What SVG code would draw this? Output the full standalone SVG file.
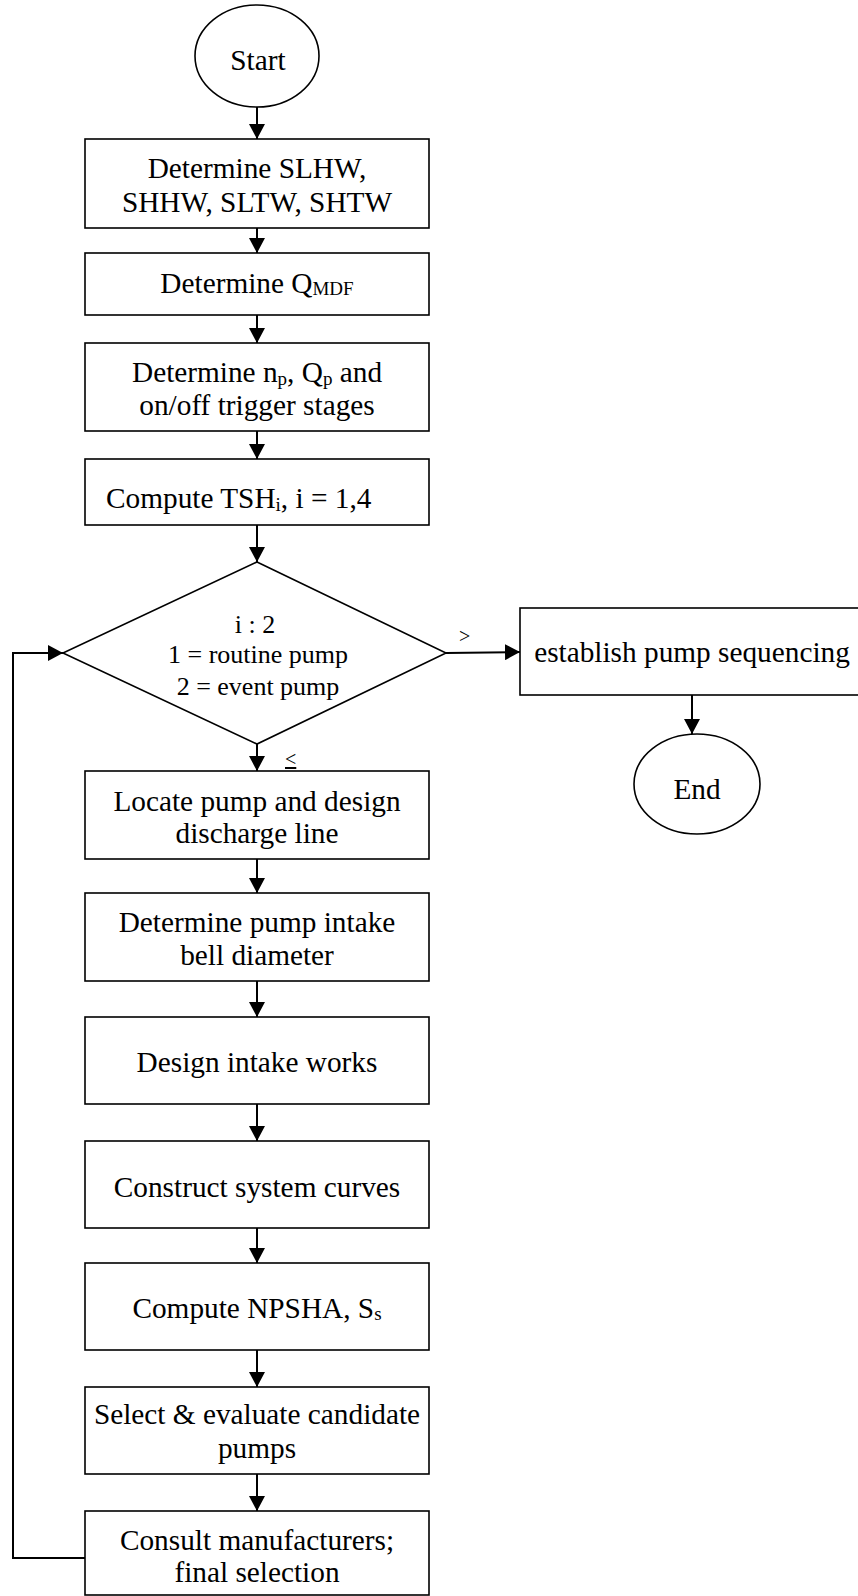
<svg xmlns="http://www.w3.org/2000/svg" width="858" height="1596" viewBox="0 0 858 1596">
<style>
  .box { fill: #ffffff; stroke: #000000; stroke-width: 1.6; }
  .t { font-family: "Liberation Serif", "Times New Roman", serif; font-size: 29.3px; fill: #000000; text-anchor: middle; }
  .ts { font-family: "Liberation Serif", "Times New Roman", serif; font-size: 26px; fill: #000000; text-anchor: middle; }
  .lbl { font-family: "Liberation Serif", "Times New Roman", serif; font-size: 20px; fill: #000000; }
  .sub { font-size: 19px; }
  .conn { fill: none; stroke: #000000; stroke-width: 2; }
</style>
<defs>
  <marker id="arrow" markerUnits="userSpaceOnUse" viewBox="0 0 15 16" refX="15" refY="8" markerWidth="15" markerHeight="16" orient="auto">
    <path d="M0,0 L15,8 L0,16 z" fill="#000000"/>
  </marker>
</defs>
<rect x="0" y="0" width="858" height="1596" fill="#ffffff"/>

<g id="connectors">
  <line class="conn" x1="257" y1="107" x2="257" y2="139" marker-end="url(#arrow)"/>
  <line class="conn" x1="257" y1="228" x2="257" y2="253" marker-end="url(#arrow)"/>
  <line class="conn" x1="257" y1="315" x2="257" y2="343" marker-end="url(#arrow)"/>
  <line class="conn" x1="257" y1="431" x2="257" y2="459" marker-end="url(#arrow)"/>
  <line class="conn" x1="257" y1="525" x2="257" y2="562" marker-end="url(#arrow)"/>
  <line class="conn" x1="257" y1="744" x2="257" y2="771" marker-end="url(#arrow)"/>
  <line class="conn" x1="446" y1="653" x2="520" y2="652" marker-end="url(#arrow)"/>
  <line class="conn" x1="692" y1="695" x2="692" y2="734" marker-end="url(#arrow)"/>
  <line class="conn" x1="257" y1="859" x2="257" y2="893" marker-end="url(#arrow)"/>
  <line class="conn" x1="257" y1="981" x2="257" y2="1017" marker-end="url(#arrow)"/>
  <line class="conn" x1="257" y1="1104" x2="257" y2="1141" marker-end="url(#arrow)"/>
  <line class="conn" x1="257" y1="1228" x2="257" y2="1263" marker-end="url(#arrow)"/>
  <line class="conn" x1="257" y1="1350" x2="257" y2="1387" marker-end="url(#arrow)"/>
  <line class="conn" x1="257" y1="1474" x2="257" y2="1511" marker-end="url(#arrow)"/>
  <polyline class="conn" points="85,1558 13,1558 13,653 63,653" marker-end="url(#arrow)"/>
  <text class="lbl" x="459" y="643">&gt;</text>
  <text class="lbl" x="285" y="766" text-decoration="underline">&lt;</text>
</g>

<g id="start">
  <ellipse class="box" cx="257" cy="56" rx="62" ry="51"/>
  <text class="t" x="258" y="70">Start</text>
</g>

<g id="determine-water-levels">
  <rect class="box" x="85" y="139" width="344" height="89"/>
  <text class="t" x="257" y="178">Determine SLHW,</text>
  <text class="t" x="257" y="212">SHHW, SLTW, SHTW</text>
</g>

<g id="determine-qmdf">
  <rect class="box" x="85" y="253" width="344" height="62"/>
  <text class="t" x="257" y="293">Determine Q<tspan class="sub" dy="2">MDF</tspan></text>
</g>

<g id="determine-np-qp">
  <rect class="box" x="85" y="343" width="344" height="88"/>
  <text class="t" x="257" y="382">Determine n<tspan class="sub" dy="3">p</tspan><tspan dy="-3">, Q</tspan><tspan class="sub" dy="3">p</tspan><tspan dy="-3"> and</tspan></text>
  <text class="t" x="257" y="415">on/off trigger stages</text>
</g>

<g id="compute-tsh">
  <rect class="box" x="85" y="459" width="344" height="66"/>
  <text class="t" x="106" y="508" style="text-anchor:start">Compute TSH<tspan class="sub" dy="3">i</tspan><tspan dy="-3">, i = 1,4</tspan></text>
</g>

<g id="decision">
  <polygon class="box" points="257,562 446,653 257,744 63,653"/>
  <text class="ts" x="255" y="633">i : 2</text>
  <text class="ts" x="258" y="663">1 = routine pump</text>
  <text class="ts" x="258" y="695">2 = event pump</text>
</g>

<g id="establish-sequencing">
  <rect class="box" x="520" y="608" width="340" height="87"/>
  <text class="t" x="692" y="662">establish pump sequencing</text>
</g>

<g id="end">
  <ellipse class="box" cx="697" cy="784" rx="63" ry="50"/>
  <text class="t" x="697" y="799">End</text>
</g>

<g id="locate-pump">
  <rect class="box" x="85" y="771" width="344" height="88"/>
  <text class="t" x="257" y="811">Locate pump and design</text>
  <text class="t" x="257" y="843">discharge line</text>
</g>

<g id="intake-bell">
  <rect class="box" x="85" y="893" width="344" height="88"/>
  <text class="t" x="257" y="932">Determine pump intake</text>
  <text class="t" x="257" y="965">bell diameter</text>
</g>

<g id="design-intake">
  <rect class="box" x="85" y="1017" width="344" height="87"/>
  <text class="t" x="257" y="1072">Design intake works</text>
</g>

<g id="system-curves">
  <rect class="box" x="85" y="1141" width="344" height="87"/>
  <text class="t" x="257" y="1197">Construct system curves</text>
</g>

<g id="npsha">
  <rect class="box" x="85" y="1263" width="344" height="87"/>
  <text class="t" x="257" y="1318">Compute NPSHA, S<tspan class="sub" dy="2">s</tspan></text>
</g>

<g id="select-pumps">
  <rect class="box" x="85" y="1387" width="344" height="87"/>
  <text class="t" x="257" y="1424">Select &amp; evaluate candidate</text>
  <text class="t" x="257" y="1458">pumps</text>
</g>

<g id="final-selection">
  <rect class="box" x="85" y="1511" width="344" height="84"/>
  <text class="t" x="257" y="1550">Consult manufacturers;</text>
  <text class="t" x="257" y="1582">final selection</text>
</g>
</svg>
